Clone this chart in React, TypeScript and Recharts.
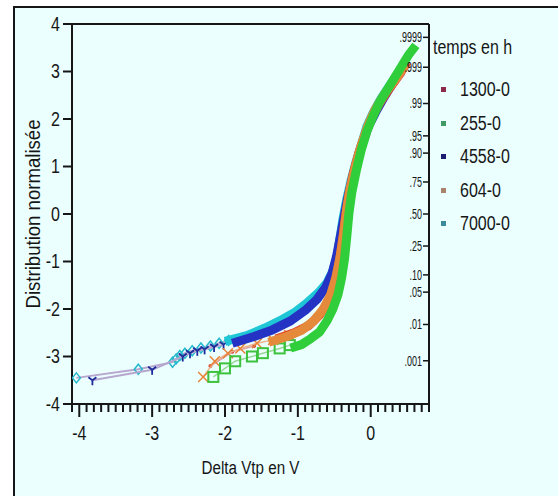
import { ScatterChart, Scatter, XAxis, YAxis, ReferenceLine } from 'recharts';

// x = Delta Vtp (V), z = normal quantile
const cyanTail = [[-4.04, -3.45], [-3.19, -3.27], [-2.72, -3.12], [-2.67, -3.05], [-2.62, -2.98], [-2.55, -2.93], [-2.45, -2.88], [-2.33, -2.82], [-2.2, -2.78], [-2.08, -2.72], [-1.95, -2.66]];
const blueTail = [[-3.82, -3.5], [-3.0, -3.28], [-2.58, -3.0], [-2.48, -2.93], [-2.38, -2.88], [-2.28, -2.85], [-2.15, -2.8], [-2.02, -2.75]];
const redTail = [[-2.2, -3.2], [-1.9, -2.9], [-1.6, -2.78]];
const orangeTail = [[-2.3, -3.43], [-2.14, -3.1], [-1.96, -2.93], [-1.79, -2.83], [-1.56, -2.72], [-1.34, -2.65], [-1.12, -2.55]];
const greenTail = [[-2.16, -3.43], [-2.0, -3.25], [-1.86, -3.1], [-1.63, -3.0], [-1.48, -2.93], [-1.25, -2.83], [-1.11, -2.76]];

const cyanBody = [[-2.0, -2.68], [-1.7, -2.56], [-1.45, -2.4], [-1.25, -2.25], [-1.05, -2.08], [-0.88, -1.88], [-0.72, -1.66], [-0.6, -1.45], [-0.52, -1.2], [-0.46, -0.9], [-0.42, -0.5], [-0.38, -0.1], [-0.33, 0.3], [-0.27, 0.7], [-0.2, 1.1], [-0.12, 1.5], [-0.05, 1.85], [0.04, 2.15], [0.15, 2.45], [0.28, 2.75], [0.4, 3.0]];
const blueBody = [[-1.9, -2.72], [-1.6, -2.58], [-1.35, -2.44], [-1.1, -2.25], [-0.9, -2.03], [-0.74, -1.8], [-0.62, -1.55], [-0.53, -1.25], [-0.47, -0.9], [-0.42, -0.5], [-0.37, -0.1], [-0.32, 0.3], [-0.26, 0.7], [-0.19, 1.1], [-0.11, 1.5], [-0.03, 1.85], [0.07, 2.15], [0.18, 2.45], [0.3, 2.75], [0.42, 3.0]];
const redBody = [[-1.3, -2.63], [-1.05, -2.5], [-0.85, -2.35], [-0.7, -2.12], [-0.58, -1.85], [-0.5, -1.5], [-0.44, -1.1], [-0.39, -0.6], [-0.35, -0.1], [-0.3, 0.4], [-0.24, 0.85], [-0.16, 1.3], [-0.07, 1.7], [0.02, 2.05], [0.13, 2.35], [0.26, 2.65], [0.4, 2.95], [0.5, 3.2]];
const orangeBody = [[-1.4, -2.7], [-1.15, -2.58], [-0.95, -2.45], [-0.78, -2.25], [-0.65, -2.0], [-0.55, -1.7], [-0.48, -1.35], [-0.42, -0.9], [-0.37, -0.4], [-0.33, 0.1], [-0.28, 0.55], [-0.21, 1.0], [-0.13, 1.45], [-0.04, 1.85], [0.06, 2.2], [0.2, 2.55], [0.35, 2.85], [0.48, 3.15]];
const greenBody = [[-1.1, -2.82], [-0.95, -2.75], [-0.82, -2.62], [-0.7, -2.48], [-0.6, -2.25], [-0.52, -2.0], [-0.45, -1.7], [-0.4, -1.35], [-0.36, -0.95], [-0.33, -0.5], [-0.3, 0.0], [-0.26, 0.45], [-0.2, 0.9], [-0.13, 1.35], [-0.05, 1.75], [0.03, 2.05], [0.12, 2.35], [0.22, 2.6], [0.32, 2.85], [0.42, 3.1], [0.52, 3.35], [0.62, 3.55]];

const legendTitle = 'temps en h';
const seriesNames = ['1300-0', '255-0', '4558-0', '604-0', '7000-0'];
const legendSwatch = ['#8c2a4c', '#3f9a63', '#1c1c70', '#a8826a', '#3a8b9c'];

const leftTicks = [-4, -3, -2, -1, 0, 1, 2, 3, 4];
const xMajor = [-4, -3, -2, -1, 0];
const probLabels = ['.001', '.01', '.05', '.10', '.25', '.50', '.75', '.90', '.95', '.99', '.999', '.9999'];
const probZ = [-3.09, -2.326, -1.645, -1.282, -0.674, 0, 0.674, 1.282, 1.645, 2.326, 3.09, 3.719];

const font = "'Liberation Sans', Arial, sans-serif";
const ink = '#161616';
const squeeze = 0.8;

const xTicks: number[] = [];
for (let i = -41; i <= 8; i++) xTicks.push(i / 10);

const pts = (a: number[][]) => a.map(([x, y]) => ({ x, y }));

// condensed text, like the narrow font of the original
const Narrow = ({ x, y, size, anchor, children, angle = 0, sx = squeeze, weight = 400 }: any) => (
  <text
    x={0}
    y={0}
    textAnchor={anchor}
    dominantBaseline="central"
    fontSize={size}
    fontFamily={font}
    fontWeight={weight}
    fill={ink}
    transform={`translate(${x},${y}) rotate(${angle}) scale(${sx},1)`}
  >
    {children}
  </text>
);

const XTick = (props: any) => {
  const { x, y, payload } = props;
  const v = payload.value;
  const major = xMajor.some((m) => Math.abs(m - v) < 1e-6);
  return (
    <g>
      <line x1={x} x2={x} y1={y} y2={y + (major ? 13 : 8)} stroke={ink} strokeWidth={2} />
      {major && (
        <Narrow x={x} y={y + 29} size={20} anchor="middle">
          {Math.round(v)}
        </Narrow>
      )}
    </g>
  );
};

const YTick = (props: any) => (
  <Narrow x={props.x} y={props.y} size={20} anchor="end">
    {props.payload.value}
  </Narrow>
);

const ProbTick = (props: any) => (
  <Narrow x={props.x} y={props.y} size={15} anchor="end" sx={0.6}>
    {probLabels[props.index]}
  </Narrow>
);

const XTitle = (props: any) => {
  const vb = props.viewBox;
  return (
    <Narrow x={vb.x + vb.width / 2} y={467} size={19} anchor="middle">
      Delta Vtp en V
    </Narrow>
  );
};

const YTitle = (props: any) => {
  const vb = props.viewBox;
  return (
    <Narrow x={33} y={vb.y + vb.height / 2} size={20} anchor="middle" angle={-90} sx={0.93}>
      Distribution normalisée
    </Narrow>
  );
};

const Diamond = (p: any) => (
  <path d={`M${p.cx},${p.cy - 5}L${p.cx + 4},${p.cy}L${p.cx},${p.cy + 5}L${p.cx - 4},${p.cy}Z`} fill="none" stroke="#25b9cc" strokeWidth={1.5} />
);
const Wye = (p: any) => (
  <g stroke="#1c2a9a" strokeWidth={1.8}>
    <line x1={p.cx} y1={p.cy} x2={p.cx} y2={p.cy + 5} />
    <line x1={p.cx} y1={p.cy} x2={p.cx - 4} y2={p.cy - 3} />
    <line x1={p.cx} y1={p.cy} x2={p.cx + 4} y2={p.cy - 3} />
  </g>
);
const Cross = (p: any) => (
  <g stroke="#e8843a" strokeWidth={1.5}>
    <line x1={p.cx - 5} y1={p.cy - 5} x2={p.cx + 5} y2={p.cy + 5} />
    <line x1={p.cx - 5} y1={p.cy + 5} x2={p.cx + 5} y2={p.cy - 5} />
  </g>
);
const Square = (p: any) => (
  <rect x={p.cx - 5} y={p.cy - 5} width={10} height={10} fill="none" stroke="#3cc23c" strokeWidth={2} />
);
const Dot = (p: any) => <circle cx={p.cx} cy={p.cy} r={2} fill="#d8443a" />;
const NoMark = () => <g />;

const LegendBox = () => (
  <div style={{ position: 'absolute', left: 433, top: 35, fontFamily: font, color: ink, fontSize: 20 }}>
    <div style={{ lineHeight: '24px', height: 24, marginBottom: 14, transform: `scaleX(${squeeze})`, transformOrigin: 'left center', whiteSpace: 'nowrap' }}>
      {legendTitle}
    </div>
    {seriesNames.map((n, i) => (
      <div key={n} style={{ display: 'flex', alignItems: 'center', height: 33.5, whiteSpace: 'nowrap' }}>
        <span style={{ display: 'inline-block', width: 5, height: 5, background: legendSwatch[i], marginLeft: 8, marginRight: 14 }} />
        <span style={{ display: 'inline-block', transform: `scaleX(${squeeze})`, transformOrigin: 'left center' }}>{n}</span>
      </div>
    ))}
  </div>
);

const bodyLine = (c: string) => ({ stroke: c, strokeWidth: 9, strokeLinejoin: 'round' as const, strokeLinecap: 'butt' as const });

export default function App() {
  return (
    <div style={{ position: 'absolute', left: 0, top: 0, width: 558, height: 496, background: '#fff', overflow: 'hidden' }}>
      <div style={{ position: 'absolute', left: 13, top: 6, right: -4, bottom: -4, borderLeft: `2px solid ${ink}`, borderTop: `2px solid ${ink}`, background: '#ebffff' }} />
      <div style={{ position: 'absolute', left: 0, top: 0 }}>
        <ScatterChart width={558} height={496} margin={{ top: 24, right: 129, bottom: 62, left: 12 }}>
          <XAxis
            type="number"
            dataKey="x"
            domain={[-4.1, 0.8]}
            ticks={xTicks}
            interval={0}
            tick={<XTick />}
            tickLine={false}
            tickSize={0}
            tickMargin={0}
            height={30}
            axisLine={{ stroke: ink, strokeWidth: 2 }}
            allowDataOverflow
            label={<XTitle />}
          />
          <YAxis
            yAxisId="left"
            type="number"
            dataKey="y"
            domain={[-4, 4]}
            ticks={leftTicks}
            interval={0}
            width={60}
            tickSize={9}
            tickMargin={3}
            tick={<YTick />}
            tickLine={{ stroke: ink, strokeWidth: 2 }}
            axisLine={{ stroke: ink, strokeWidth: 2 }}
            allowDataOverflow
            label={<YTitle />}
          />
          <YAxis
            yAxisId="right"
            orientation="right"
            mirror
            type="number"
            domain={[-4, 4]}
            ticks={probZ}
            interval={0}
            tickSize={6}
            tickMargin={1}
            tick={<ProbTick />}
            tickLine={{ stroke: ink, strokeWidth: 1.5 }}
            axisLine={{ stroke: ink, strokeWidth: 2 }}
            allowDataOverflow
          />
          <ReferenceLine yAxisId="left" y={4} stroke={ink} strokeWidth={2} />

          <Scatter yAxisId="left" name="7000-0 tail" data={pts(cyanTail)} line={{ stroke: '#b7a7cf', strokeWidth: 2 }} shape={Diamond} isAnimationActive={false} />
          <Scatter yAxisId="left" name="4558-0 tail" data={pts(blueTail)} line={{ stroke: '#b7a7cf', strokeWidth: 2 }} shape={Wye} isAnimationActive={false} />
          <Scatter yAxisId="left" name="1300-0 tail" data={pts(redTail)} line={{ stroke: '#e0a0a0', strokeWidth: 1.5 }} shape={Dot} isAnimationActive={false} />
          <Scatter yAxisId="left" name="604-0 tail" data={pts(orangeTail)} line={{ stroke: '#ecb38a', strokeWidth: 1.5 }} shape={Cross} isAnimationActive={false} />
          <Scatter yAxisId="left" name="255-0 tail" data={pts(greenTail)} line={{ stroke: '#9ad89a', strokeWidth: 1.5 }} shape={Square} isAnimationActive={false} />

          <Scatter yAxisId="left" name="7000-0" data={pts(cyanBody)} line={bodyLine('#1ec6d6')} shape={NoMark} isAnimationActive={false} />
          <Scatter yAxisId="left" name="4558-0" data={pts(blueBody)} line={bodyLine('#2433c4')} shape={NoMark} isAnimationActive={false} />
          <Scatter yAxisId="left" name="1300-0" data={pts(redBody)} line={bodyLine('#e2442c')} shape={NoMark} isAnimationActive={false} />
          <Scatter yAxisId="left" name="604-0" data={pts(orangeBody)} line={bodyLine('#e48a3a')} shape={NoMark} isAnimationActive={false} />
          <Scatter yAxisId="left" name="255-0" data={pts(greenBody)} line={bodyLine('#2fce3a')} shape={NoMark} isAnimationActive={false} />
        </ScatterChart>
      </div>
      <LegendBox />
    </div>
  );
}
